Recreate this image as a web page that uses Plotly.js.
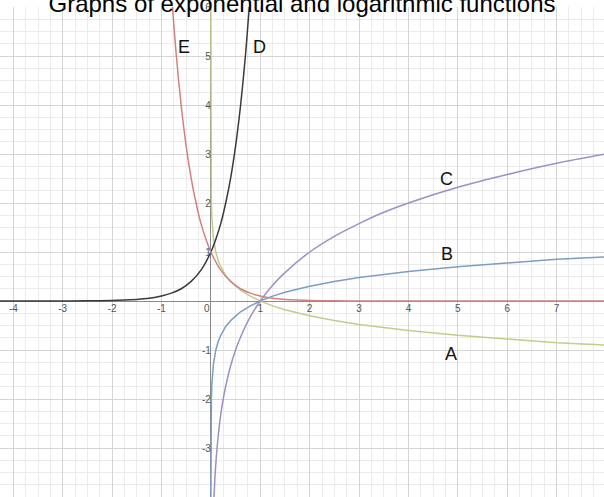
<!DOCTYPE html>
<html>
<head>
<meta charset="utf-8">
<script src="https://cdn.plot.ly/plotly-3.0.1.min.js"></script>
<style>html,body{margin:0;padding:0;background:#fff;}#chart{width:604px;height:497px;}</style>
</head>
<body>
<div id="chart"></div>
<script>
// Curve A (decreasing logarithm)
var aX = [0.000001, 0.00001, 0.0001, 0.001, 0.005, 0.01, 0.02, 0.05, 0.1, 0.15, 0.2, 0.3, 0.4, 0.5, 0.6, 0.8, 1, 1.25, 1.5, 2, 2.5, 3, 4, 5, 6, 7, 8];
var aY = [6, 5, 4, 3, 2.3, 2, 1.7, 1.3, 1, 0.82, 0.7, 0.52, 0.4, 0.3, 0.22, 0.1, 0, -0.1, -0.18, -0.3, -0.4, -0.48, -0.6, -0.7, -0.78, -0.85, -0.9];
// Curve B (slow increasing logarithm)
var bX = [0.0001, 0.001, 0.005, 0.01, 0.02, 0.05, 0.1, 0.15, 0.2, 0.3, 0.4, 0.5, 0.6, 0.8, 1, 1.25, 1.5, 2, 2.5, 3, 4, 5, 6, 7, 8];
var bY = [-4, -3, -2.3, -2, -1.7, -1.3, -1, -0.82, -0.7, -0.52, -0.4, -0.3, -0.22, -0.1, 0, 0.1, 0.18, 0.3, 0.4, 0.48, 0.6, 0.7, 0.78, 0.85, 0.9];
// Curve C (faster increasing logarithm)
var cX = [0.0625, 0.08, 0.1, 0.125, 0.15, 0.2, 0.25, 0.3, 0.4, 0.5, 0.6, 0.8, 1, 1.25, 1.5, 2, 2.5, 3, 3.5, 4, 5, 6, 7, 8];
var cY = [-4, -3.64, -3.32, -3, -2.74, -2.32, -2, -1.74, -1.32, -1, -0.74, -0.32, 0, 0.32, 0.58, 1, 1.32, 1.58, 1.81, 2, 2.32, 2.58, 2.81, 3];
// Curve D (increasing exponential)
var dX = [-4.3, -3, -2.5, -2, -1.75, -1.5, -1.25, -1, -0.8, -0.6, -0.4, -0.2, 0, 0.1, 0.2, 0.3, 0.4, 0.5, 0.6, 0.7, 0.8];
var dY = [0.00005, 0.001, 0.003, 0.01, 0.018, 0.032, 0.056, 0.1, 0.16, 0.25, 0.4, 0.63, 1, 1.26, 1.58, 2, 2.51, 3.16, 3.98, 5.01, 6.31];
// Curve E (decreasing exponential)
var eX = [-0.8, -0.7, -0.6, -0.5, -0.4, -0.3, -0.2, -0.1, 0, 0.2, 0.4, 0.6, 0.8, 1, 1.25, 1.5, 1.75, 2, 2.5, 3, 4, 8];
var eY = [6.31, 5.01, 3.98, 3.16, 2.51, 2, 1.58, 1.26, 1, 0.63, 0.4, 0.25, 0.16, 0.1, 0.056, 0.032, 0.018, 0.01, 0.003, 0.001, 0.0001, 0];

// Curve labels
var labelText = ['A', 'B', 'C', 'D', 'E'];
var labelX = [4.86, 4.78, 4.78, 0.99, -0.55];
var labelY = [-1.08, 0.96, 2.5, 5.18, 5.18];

// Tick labels
var xTickVals = [-4, -3, -2, -1, 0, 1, 2, 3, 4, 5, 6, 7];
var xTickText = ['-4', '-3', '-2', '-1', '0\u00a0\u00a0\u00a0', '1', '2', '3', '4', '5', '6', '7'];
var yTickVals = [-4, -3, -2, -1, 1, 2, 3, 4, 5, 6];
var yTickText = ['-4', '-3', '-2', '-1', '1', '2', '3', '4', '5', '6'];

var titleText = 'Graphs of exponential and logarithmic functions';

var xRange = [-4.27, 7.96];
var yRange = [-4.0, 6.0];

function line(x, y, color, shape) {
  return {x: x, y: y, type: 'scatter', mode: 'lines', hoverinfo: 'skip',
          line: {color: color, width: 1.5, shape: shape, smoothing: 0.8}};
}

var traces = [
  line(aX, aY, '#c6cc88', 'linear'),
  line(bX, bY, '#7c9ec0', 'linear'),
  line(cX, cY, '#a18fc3', 'spline'),
  line(dX, dY, '#3a3a3a', 'spline'),
  line(eX, eY, '#d2827e', 'spline')
];

var annotations = labelText.map(function (t, i) {
  return {x: labelX[i], y: labelY[i], xref: 'x', yref: 'y', text: t, showarrow: false,
          font: {family: 'Liberation Sans, Arial, sans-serif', size: 18, color: '#111'}};
});

var yZeroFrac = (0 - yRange[0]) / (yRange[1] - yRange[0]);
var xZeroFrac = (0 - xRange[0]) / (xRange[1] - xRange[0]);

var layout = {
  width: 604, height: 497,
  margin: {l: 0, r: 0, t: 7, b: 0, pad: 0},
  paper_bgcolor: '#ffffff', plot_bgcolor: '#ffffff',
  showlegend: false, hovermode: false,
  title: {text: titleText, x: 0.5, xanchor: 'center', y: 1.006, yref: 'container', yanchor: 'middle',
          font: {family: 'Liberation Sans, Arial, sans-serif', size: 24, color: '#000'}},
  xaxis: {range: xRange, anchor: 'free', position: yZeroFrac,
          tickmode: 'array', tickvals: xTickVals, ticktext: xTickText,
          ticks: '', showline: false, zeroline: true, zerolinecolor: '#8a8a8a', zerolinewidth: 1,
          showgrid: true, gridcolor: '#d4d4d4', gridwidth: 1,
          minor: {dtick: 0.25, tick0: 0, showgrid: true, gridcolor: '#ebebeb', gridwidth: 1},
          tickfont: {family: 'Liberation Sans, Arial, sans-serif', size: 10, color: '#555'},
          fixedrange: true},
  yaxis: {range: yRange, anchor: 'free', position: xZeroFrac,
          tickmode: 'array', tickvals: yTickVals, ticktext: yTickText,
          ticks: '', showline: false, zeroline: true, zerolinecolor: '#8a8a8a', zerolinewidth: 1,
          showgrid: true, gridcolor: '#d4d4d4', gridwidth: 1,
          minor: {dtick: 0.25, tick0: 0, showgrid: true, gridcolor: '#ebebeb', gridwidth: 1},
          tickfont: {family: 'Liberation Sans, Arial, sans-serif', size: 10, color: '#555'},
          fixedrange: true},
  annotations: annotations
};

Plotly.newPlot('chart', traces, layout, {displayModeBar: false, staticPlot: true});
</script>
</body>
</html>
